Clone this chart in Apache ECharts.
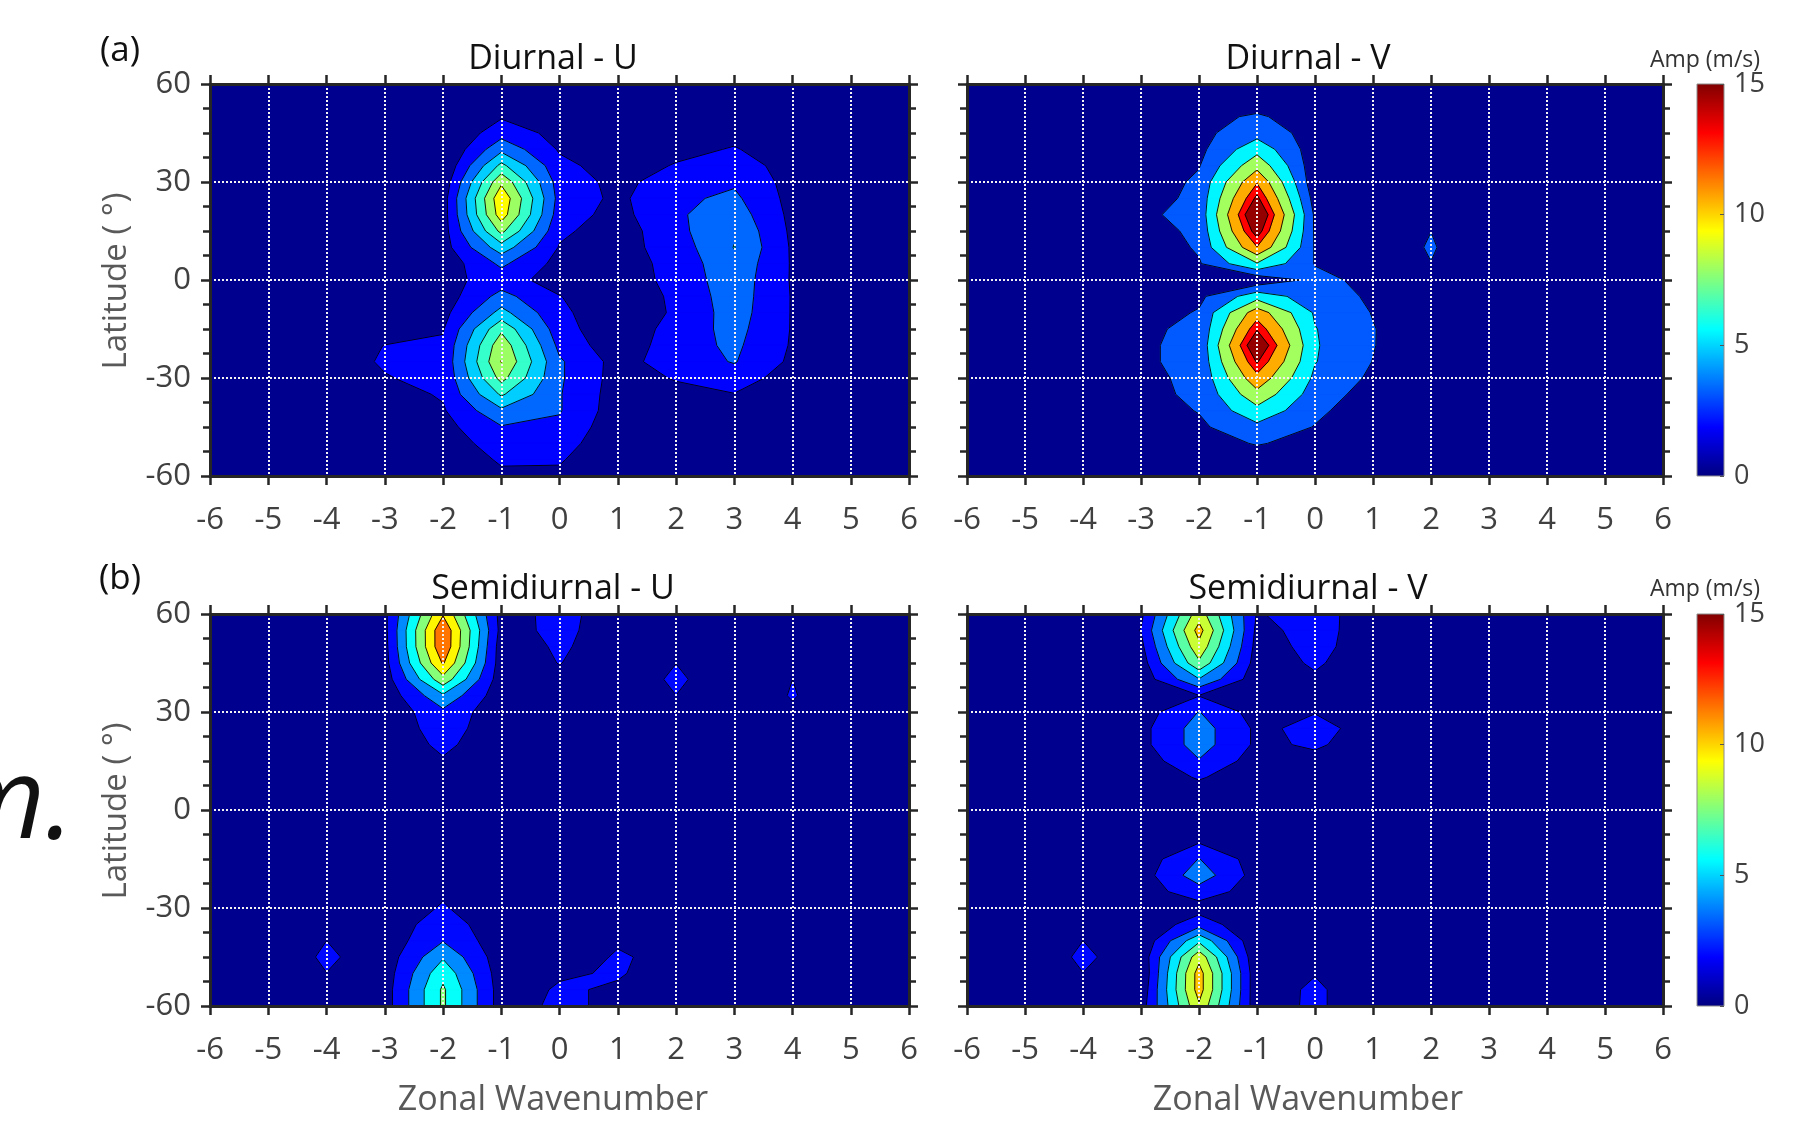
<!DOCTYPE html>
<html>
<head>
<meta charset="utf-8">
<title>Tidal amplitude vs zonal wavenumber</title>
<script src="https://cdn.jsdelivr.net/npm/echarts@6/dist/echarts.min.js"></script>
<style>
  html, body { margin: 0; padding: 0; background: #fff; }
  #chart { width: 1798px; height: 1127px; }
</style>
</head>
<body>
<div id="chart"></div>
<script>
// grid of the contour plots: columns = zonal wavenumber, rows = latitude (north -> south)
const WAVENUMBERS = [-6, -5, -4, -3, -2, -1, 0, 1, 2, 3, 4, 5, 6];
const LATITUDES = [60, 55, 50, 45, 40, 35, 30, 25, 20, 15, 10, 5, 0, -5, -10, -15, -20, -25, -30, -35, -40, -45, -50, -55, -60];
const AMP_RANGE = [0, 15];

const PANEL_TITLES = ['Diurnal - U', 'Diurnal - V', 'Semidiurnal - U', 'Semidiurnal - V'];

// contour levels (m/s) of each panel
const LEVELS_DIURNAL_U = [1.9, 3.4, 4.9, 6.4, 7.9, 9.4];
const LEVELS_DIURNAL_V = [3.2, 5.5, 8.0, 10.6, 13.1, 14.7];
const LEVELS_SEMI_U = [2.0, 3.9, 5.7, 7.6, 9.5, 11.4];
const LEVELS_SEMI_V = [2.0, 3.65, 5.3, 6.95, 8.6, 10.25];

// amplitude (m/s), one row per latitude, one column per wavenumber
const DIURNAL_U = [
  [0.3, 0.3, 0.4, 0.4, 0.3, 0.6, 0.4, 0.4, 0.3, 0.4, 0.3, 0.3, 0.3],
  [0.3, 0.3, 0.4, 0.4, 0.4, 1.1, 0.6, 0.5, 0.4, 0.6, 0.4, 0.3, 0.3],
  [0.3, 0.3, 0.4, 0.4, 0.4, 1.75, 1.0, 0.6, 0.6, 0.9, 0.6, 0.3, 0.3],
  [0.3, 0.3, 0.4, 0.3, 0.3, 2.8, 1.4, 0.8, 1.0, 1.5, 0.9, 0.4, 0.3],
  [0.3, 0.3, 0.4, 0.3, 0.3, 4.5, 1.75, 1.0, 1.5, 2.0, 1.1, 0.4, 0.3],
  [0.3, 0.3, 0.4, 0.3, 0.5, 6.8, 2.3, 1.2, 2.0, 2.6, 1.3, 0.5, 0.3],
  [0.3, 0.3, 0.4, 0.4, 0.9, 9.1, 2.7, 1.5, 2.6, 3.2, 1.35, 0.5, 0.3],
  [0.3, 0.3, 0.4, 0.5, 1.2, 10.6, 2.85, 1.58, 3.1, 3.7, 1.4, 0.5, 0.3],
  [0.3, 0.3, 0.4, 0.5, 1.2, 10.2, 2.6, 1.4, 3.2, 4.2, 1.5, 0.6, 0.3],
  [0.3, 0.3, 0.4, 0.5, 1.25, 8.3, 2.2, 1.1, 3.0, 4.7, 1.6, 0.6, 0.3],
  [0.3, 0.3, 0.4, 0.5, 1.25, 5.75, 1.8, 1.3, 2.6, 4.95, 1.7, 0.6, 0.3],
  [0.3, 0.3, 0.4, 0.4, 0.9, 3.7, 1.4, 1.1, 2.45, 4.5, 1.75, 0.6, 0.3],
  [0.3, 0.4, 0.4, 0.6, 1.4, 2.6, 1.2, 1.0, 2.4, 4.3, 1.75, 0.6, 0.3],
  [0.3, 0.3, 0.4, 0.5, 1.1, 3.9, 1.95, 0.8, 2.2, 4.2, 1.8, 0.6, 0.3],
  [0.3, 0.3, 0.4, 0.7, 1.4, 5.4, 2.2, 0.9, 2.1, 4.1, 1.8, 0.6, 0.3],
  [0.3, 0.3, 0.8, 1.2, 1.8, 7.6, 2.5, 0.8, 2.5, 3.9, 1.8, 0.6, 0.3],
  [0.3, 0.4, 1.3, 1.92, 2.1, 8.9, 3.0, 0.9, 2.7, 3.7, 1.75, 0.5, 0.3],
  [0.3, 0.5, 1.45, 2.0, 2.2, 9.45, 3.6, 1.35, 2.6, 3.5, 1.6, 0.5, 0.3],
  [0.3, 0.4, 1.2, 1.85, 2.15, 8.4, 3.6, 1.3, 2.0, 2.65, 1.2, 0.4, 0.3],
  [0.3, 0.3, 0.8, 1.3, 2.05, 6.6, 3.5, 1.2, 1.5, 1.85, 0.9, 0.4, 0.3],
  [0.3, 0.3, 0.6, 0.9, 1.75, 4.6, 3.5, 1.1, 1.0, 1.3, 0.7, 0.3, 0.3],
  [0.3, 0.3, 0.4, 0.6, 1.4, 3.3, 3.1, 0.9, 0.7, 1.0, 0.5, 0.3, 0.3],
  [0.3, 0.3, 0.3, 0.4, 1.0, 2.7, 2.6, 0.7, 0.5, 0.8, 0.4, 0.3, 0.3],
  [0.3, 0.3, 0.3, 0.3, 0.7, 2.1, 2.05, 0.6, 0.4, 0.6, 0.3, 0.3, 0.3],
  [0.3, 0.3, 0.3, 0.3, 0.5, 1.6, 1.6, 0.5, 0.3, 0.4, 0.3, 0.3, 0.3]
];

const DIURNAL_V = [
  [0.3, 0.3, 0.3, 0.3, 0.8, 0.6, 0.4, 0.3, 0.3, 0.3, 0.3, 0.3, 0.3],
  [0.3, 0.3, 0.3, 0.4, 1.8, 1.6, 0.9, 0.4, 0.3, 0.3, 0.3, 0.3, 0.3],
  [0.3, 0.3, 0.4, 0.5, 2.3, 3.6, 1.6, 0.5, 0.4, 0.3, 0.3, 0.3, 0.3],
  [0.3, 0.4, 0.4, 0.6, 2.6, 4.6, 2.27, 0.6, 0.5, 0.3, 0.3, 0.3, 0.3],
  [0.3, 0.4, 0.5, 0.8, 2.6, 7.1, 1.9, 0.7, 0.6, 0.3, 0.3, 0.3, 0.3],
  [0.3, 0.4, 0.5, 1.0, 3.06, 9.8, 1.7, 0.8, 0.8, 0.3, 0.3, 0.3, 0.3],
  [0.3, 0.4, 0.7, 1.5, 3.7, 12.9, 1.6, 0.9, 1.0, 0.3, 0.3, 0.3, 0.3],
  [0.3, 0.4, 0.9, 2.0, 3.9, 15.2, 2.2, 1.0, 1.3, 0.4, 0.3, 0.3, 0.3],
  [0.3, 0.4, 1.2, 2.8, 3.9, 17.5, 2.8, 1.0, 1.8, 0.5, 0.3, 0.3, 0.3],
  [0.3, 0.4, 1.0, 2.2, 3.7, 15.8, 2.9, 1.0, 3.18, 0.6, 0.3, 0.3, 0.3],
  [0.3, 0.4, 0.7, 1.5, 3.5, 13.0, 3.0, 1.1, 3.5, 0.6, 0.3, 0.3, 0.3],
  [0.3, 0.4, 0.5, 0.8, 3.0, 7.8, 3.1, 1.6, 3.15, 0.6, 0.3, 0.3, 0.3],
  [0.3, 0.4, 0.4, 0.4, 0.8, 1.5, 3.8, 2.6, 1.5, 0.5, 0.3, 0.3, 0.3],
  [0.3, 0.4, 0.4, 0.5, 2.7, 6.9, 4.2, 2.9, 1.4, 0.5, 0.3, 0.3, 0.3],
  [0.3, 0.4, 0.8, 2.0, 3.4, 12.0, 5.2, 3.1, 1.5, 0.5, 0.3, 0.3, 0.3],
  [0.3, 0.4, 1.2, 2.95, 3.5, 14.5, 5.6, 3.3, 1.5, 0.5, 0.3, 0.3, 0.3],
  [0.3, 0.4, 1.4, 3.0, 3.6, 17.0, 5.7, 3.3, 1.3, 0.5, 0.3, 0.3, 0.3],
  [0.3, 0.4, 1.4, 3.0, 3.6, 14.9, 5.6, 3.15, 1.2, 0.4, 0.3, 0.3, 0.3],
  [0.3, 0.4, 1.3, 2.9, 3.5, 12.4, 5.0, 2.8, 1.0, 0.4, 0.3, 0.3, 0.3],
  [0.3, 0.4, 1.1, 2.9, 3.4, 9.8, 4.3, 2.3, 0.8, 0.4, 0.3, 0.3, 0.3],
  [0.3, 0.4, 0.8, 2.2, 3.3, 7.2, 3.7, 1.8, 0.6, 0.3, 0.3, 0.3, 0.3],
  [0.3, 0.4, 0.6, 1.5, 2.8, 4.9, 3.1, 1.3, 0.5, 0.3, 0.3, 0.3, 0.3],
  [0.3, 0.3, 0.5, 1.0, 2.0, 3.4, 2.3, 0.9, 0.4, 0.3, 0.3, 0.3, 0.3],
  [0.3, 0.3, 0.4, 0.6, 1.2, 1.8, 1.4, 0.6, 0.3, 0.3, 0.3, 0.3, 0.3],
  [0.3, 0.3, 0.3, 0.4, 0.6, 0.8, 0.8, 0.4, 0.3, 0.3, 0.3, 0.3, 0.3]
];

const SEMIDIURNAL_U = [
  [0.3, 0.4, 0.4, 1.6, 11.2, 1.3, 2.5, 1.2, 0.5, 0.5, 0.4, 0.4, 0.3],
  [0.3, 0.4, 0.4, 1.5, 13.0, 1.4, 2.4, 1.2, 0.6, 0.5, 0.4, 0.4, 0.3],
  [0.3, 0.4, 0.4, 1.4, 13.0, 1.0, 2.25, 1.1, 0.8, 0.5, 0.5, 0.4, 0.3],
  [0.3, 0.4, 0.4, 1.3, 11.6, 1.0, 2.05, 1.0, 1.98, 0.6, 1.2, 0.4, 0.3],
  [0.3, 0.4, 0.4, 1.0, 8.84, 0.9, 1.6, 0.5, 2.4, 0.5, 2.0, 0.5, 0.3],
  [0.3, 0.4, 0.4, 0.7, 5.4, 0.8, 1.1, 0.6, 1.99, 0.5, 2.15, 0.5, 0.3],
  [0.3, 0.4, 0.4, 0.5, 3.5, 0.6, 0.8, 0.6, 1.2, 0.5, 1.7, 0.4, 0.3],
  [0.3, 0.4, 0.4, 0.4, 3.1, 0.5, 0.6, 0.5, 0.6, 0.5, 1.0, 0.4, 0.3],
  [0.3, 0.4, 0.4, 0.4, 2.5, 0.5, 0.5, 0.5, 0.5, 0.5, 0.4, 0.4, 0.3],
  [0.3, 0.4, 0.4, 0.3, 1.8, 0.4, 0.5, 0.5, 0.5, 0.5, 0.4, 0.4, 0.3],
  [0.3, 0.4, 0.4, 0.3, 1.2, 0.3, 0.5, 0.5, 0.5, 0.5, 0.4, 0.4, 0.3],
  [0.3, 0.4, 0.4, 0.3, 0.8, 0.3, 0.5, 0.5, 0.5, 0.5, 0.4, 0.4, 0.3],
  [0.3, 0.4, 0.4, 0.3, 0.6, 0.3, 0.5, 0.5, 0.5, 0.5, 0.4, 0.4, 0.3],
  [0.3, 0.4, 0.4, 0.3, 0.5, 0.3, 0.5, 0.5, 0.5, 0.5, 0.4, 0.4, 0.3],
  [0.3, 0.4, 0.4, 0.3, 0.6, 0.3, 0.5, 0.5, 0.5, 0.5, 0.4, 0.4, 0.3],
  [0.3, 0.4, 0.4, 0.3, 0.8, 0.3, 0.5, 0.5, 0.5, 0.5, 0.4, 0.4, 0.3],
  [0.3, 0.4, 0.4, 0.4, 1.2, 0.3, 0.5, 0.5, 0.5, 0.5, 0.4, 0.4, 0.3],
  [0.3, 0.4, 0.4, 0.5, 1.7, 0.3, 0.5, 0.5, 0.5, 0.5, 0.4, 0.4, 0.3],
  [0.3, 0.4, 0.4, 0.6, 2.2, 0.4, 0.5, 0.5, 0.5, 0.5, 0.4, 0.4, 0.3],
  [0.3, 0.4, 0.8, 0.7, 3.1, 0.6, 0.5, 0.9, 0.6, 0.5, 0.4, 0.4, 0.3],
  [0.3, 0.4, 2.0, 0.8, 3.8, 0.8, 0.6, 1.8, 1.1, 0.5, 0.4, 0.4, 0.3],
  [0.3, 0.5, 2.35, 0.9, 5.5, 0.9, 0.9, 2.2, 1.46, 0.5, 0.4, 0.4, 0.3],
  [0.3, 0.4, 1.98, 1.0, 7.0, 1.0, 1.8, 2.15, 1.2, 0.5, 0.4, 0.4, 0.3],
  [0.3, 0.4, 0.8, 1.1, 7.9, 1.1, 2.2, 1.8, 0.8, 0.5, 0.4, 0.4, 0.3],
  [0.3, 0.4, 0.5, 1.1, 7.9, 1.1, 2.4, 1.6, 0.6, 0.5, 0.4, 0.4, 0.3]
];

const SEMIDIURNAL_V = [
  [0.3, 0.4, 0.5, 1.7, 9.5, 1.9, 2.6, 1.2, 0.5, 0.4, 0.3, 0.3, 0.3],
  [0.3, 0.4, 0.5, 2.05, 10.9, 1.6, 2.5, 1.3, 0.5, 0.4, 0.3, 0.3, 0.3],
  [0.3, 0.4, 0.4, 1.6, 9.8, 1.4, 2.4, 1.3, 0.5, 0.4, 0.3, 0.3, 0.3],
  [0.3, 0.4, 0.4, 1.2, 8.3, 1.2, 2.2, 1.1, 0.4, 0.4, 0.3, 0.3, 0.3],
  [0.3, 0.4, 0.4, 1.0, 5.2, 1.0, 1.8, 0.9, 0.4, 0.4, 0.3, 0.3, 0.3],
  [0.3, 0.4, 0.4, 0.8, 1.95, 0.8, 1.3, 0.8, 0.4, 0.4, 0.3, 0.3, 0.3],
  [0.3, 0.4, 0.4, 1.2, 3.7, 1.3, 1.95, 1.0, 0.4, 0.4, 0.3, 0.3, 0.3],
  [0.3, 0.4, 0.4, 1.5, 4.4, 1.7, 2.4, 1.5, 0.6, 0.4, 0.3, 0.3, 0.3],
  [0.3, 0.4, 0.4, 1.5, 4.4, 1.7, 2.2, 1.3, 0.5, 0.4, 0.3, 0.3, 0.3],
  [0.3, 0.4, 0.4, 1.0, 3.55, 1.2, 1.6, 0.9, 0.4, 0.4, 0.3, 0.3, 0.3],
  [0.3, 0.4, 0.4, 0.6, 2.2, 0.7, 0.9, 0.6, 0.4, 0.4, 0.3, 0.3, 0.3],
  [0.3, 0.4, 0.4, 0.4, 1.0, 0.4, 0.5, 0.4, 0.4, 0.4, 0.3, 0.3, 0.3],
  [0.3, 0.4, 0.4, 0.3, 0.6, 0.3, 0.4, 0.4, 0.4, 0.4, 0.3, 0.3, 0.3],
  [0.3, 0.4, 0.4, 0.4, 0.9, 0.5, 0.4, 0.4, 0.4, 0.4, 0.3, 0.3, 0.3],
  [0.3, 0.4, 0.4, 0.6, 1.95, 0.8, 0.4, 0.4, 0.4, 0.4, 0.3, 0.3, 0.3],
  [0.3, 0.4, 0.4, 1.0, 3.7, 1.2, 0.4, 0.4, 0.4, 0.4, 0.3, 0.3, 0.3],
  [0.3, 0.4, 0.4, 1.2, 4.6, 1.3, 0.4, 0.4, 0.4, 0.4, 0.3, 0.3, 0.3],
  [0.3, 0.4, 0.4, 1.2, 2.9, 1.2, 0.4, 0.4, 0.4, 0.4, 0.3, 0.3, 0.3],
  [0.3, 0.4, 0.4, 0.7, 1.3, 0.7, 0.4, 0.4, 0.4, 0.4, 0.3, 0.3, 0.3],
  [0.3, 0.4, 0.9, 0.5, 3.0, 0.5, 0.4, 0.4, 0.4, 0.4, 0.3, 0.3, 0.3],
  [0.3, 0.4, 2.0, 0.6, 6.6, 0.5, 0.4, 0.4, 0.4, 0.4, 0.3, 0.3, 0.3],
  [0.3, 0.4, 2.4, 0.8, 9.7, 0.6, 0.8, 0.4, 0.4, 0.4, 0.3, 0.3, 0.3],
  [0.3, 0.4, 1.98, 0.5, 11.0, 0.8, 1.9, 0.5, 0.4, 0.4, 0.3, 0.3, 0.3],
  [0.3, 0.4, 0.8, 0.8, 11.0, 0.8, 2.4, 0.5, 0.4, 0.4, 0.3, 0.3, 0.3],
  [0.3, 0.4, 0.5, 1.2, 10.0, 0.9, 2.4, 0.5, 0.4, 0.4, 0.3, 0.3, 0.3]
];

const FONT = '"Open Sans", "DejaVu Sans", sans-serif';
const FRAME = '#262626';
const LABEL = '#404040';
const GREY_TEXT = '#595959';

// MATLAB style jet colormap on the amplitude range
function jet(v) {
  const f = Math.min(Math.max((v - AMP_RANGE[0]) / (AMP_RANGE[1] - AMP_RANGE[0]), 0), 1);
  const ch = x => Math.round(255 * Math.min(Math.max(1.5 - Math.abs(4 * f - x), 0), 1));
  return 'rgb(' + ch(3) + ',' + ch(2) + ',' + ch(1) + ')';
}
const NAVY = jet(AMP_RANGE[1] / 64);

const panels = [
  { values: DIURNAL_U, levels: LEVELS_DIURNAL_U, left: 210, top: 84, width: 699 },
  { values: DIURNAL_V, levels: LEVELS_DIURNAL_V, left: 967, top: 84, width: 696 },
  { values: SEMIDIURNAL_U, levels: LEVELS_SEMI_U, left: 210, top: 614, width: 699 },
  { values: SEMIDIURNAL_V, levels: LEVELS_SEMI_V, left: 967, top: 614, width: 696 }
];
const PANEL_HEIGHT = 392;

function toPoints(values) {
  const pts = [];
  LATITUDES.forEach((lat, r) => {
    WAVENUMBERS.forEach((k, c) => pts.push([k, lat, values[r][c]]));
  });
  return pts;
}

// filled contours, cell by cell (marching squares, linear along the cell edges)
function contourRenderer(values, levels) {
  const nCol = WAVENUMBERS.length;
  return function (params, api) {
    const r = Math.floor(params.dataIndex / nCol);
    const c = params.dataIndex % nCol;
    if (r >= LATITUDES.length - 1 || c >= nCol - 1) return null;
    const corners = [[r, c], [r, c + 1], [r + 1, c + 1], [r + 1, c]].map(rc => {
      const p = api.coord([WAVENUMBERS[rc[1]], LATITUDES[rc[0]]]);
      return { x: p[0], y: p[1], v: values[rc[0]][rc[1]] };
    });
    const children = [];
    levels.forEach((lev, li) => {
      const poly = [];
      const cuts = [];
      for (let i = 0; i < 4; i++) {
        const a = corners[i];
        const b = corners[(i + 1) % 4];
        const aIn = a.v >= lev;
        const bIn = b.v >= lev;
        if (aIn) poly.push([a.x, a.y]);
        if (aIn !== bIn) {
          const t = (lev - a.v) / (b.v - a.v);
          const pt = [a.x + t * (b.x - a.x), a.y + t * (b.y - a.y)];
          poly.push(pt);
          cuts.push({ pt: pt, exit: aIn });
        }
      }
      if (poly.length < 3) return;
      const fill = jet(lev);
      children.push({
        type: 'polygon', z2: li + 1,
        shape: { points: poly },
        style: { fill: fill, stroke: fill, lineWidth: 0.8 }
      });
      cuts.forEach((cut, i) => {
        if (!cut.exit) return;
        const next = cuts[(i + 1) % cuts.length];
        children.push({
          type: 'line', z2: 100,
          shape: { x1: cut.pt[0], y1: cut.pt[1], x2: next.pt[0], y2: next.pt[1] },
          style: { stroke: '#000', lineWidth: 0.9 }
        });
      });
    });
    return { type: 'group', children: children };
  };
}

const gridLine = { color: '#f2f2f2', type: [2, 2], width: 2 };
const frameLine = { show: true, onZero: false, lineStyle: { color: FRAME, width: 3 } };
const frameTick = { show: true, inside: false, length: 9, lineStyle: { color: FRAME, width: 2.5 } };
const minorTick = { show: true, splitNumber: 4, length: 7, lineStyle: { color: FRAME, width: 2.5 } };

const grids = [];
const xAxes = [];
const yAxes = [];
const series = [];

panels.forEach((p, i) => {
  grids.push({
    left: p.left, top: p.top, width: p.width, height: PANEL_HEIGHT,
    show: true, backgroundColor: NAVY, borderWidth: 0, outerBoundsMode: 'none'
  });
  const xBase = { type: 'value', gridIndex: i, min: -6, max: 6, interval: 1, z: 5 };
  xAxes.push(Object.assign({}, xBase, {
    position: 'bottom', axisLine: frameLine, axisTick: frameTick,
    axisLabel: { margin: 29, fontSize: 31, color: LABEL, fontFamily: FONT },
    splitLine: { show: true, showMinLine: false, showMaxLine: false, lineStyle: gridLine }
  }));
  xAxes.push(Object.assign({}, xBase, {
    position: 'top', axisLine: frameLine, axisTick: frameTick,
    axisLabel: { show: false }, splitLine: { show: false }
  }));
  const yBase = { type: 'value', gridIndex: i, min: -60, max: 60, interval: 30, z: 5 };
  yAxes.push(Object.assign({}, yBase, {
    position: 'left', axisLine: frameLine, axisTick: frameTick, minorTick: minorTick,
    axisLabel: { show: i % 2 === 0, margin: 19, fontSize: 31, color: LABEL, fontFamily: FONT },
    splitLine: { show: true, showMinLine: false, showMaxLine: false, lineStyle: gridLine }
  }));
  yAxes.push(Object.assign({}, yBase, {
    position: 'right', axisLine: frameLine, axisTick: frameTick, minorTick: minorTick,
    axisLabel: { show: false }, splitLine: { show: false }
  }));
  series.push({
    type: 'custom', name: PANEL_TITLES[i],
    xAxisIndex: 2 * i, yAxisIndex: 2 * i,
    clip: true, z: 2,
    encode: { x: 0, y: 1 },
    renderItem: contourRenderer(p.values, p.levels),
    data: toPoints(p.values)
  });
});

// colour bars beside the right hand panels
const colorStops = [0, 0.125, 0.375, 0.625, 0.875, 1].map(o => ({
  offset: o, color: jet(AMP_RANGE[0] + o * (AMP_RANGE[1] - AMP_RANGE[0]))
}));
[84, 614].forEach((top, j) => {
  const gi = grids.length;
  const ai = xAxes.length;
  grids.push({ left: 1697, top: top, width: 27, height: PANEL_HEIGHT, outerBoundsMode: 'none' });
  xAxes.push({ type: 'value', gridIndex: gi, min: 0, max: 1, show: false });
  yAxes.push({
    type: 'value', gridIndex: gi, min: AMP_RANGE[0], max: AMP_RANGE[1], interval: 5,
    position: 'right', z: 5,
    axisLine: { show: false, onZero: false },
    axisTick: { show: true, inside: true, length: 4, lineStyle: { color: '#555', width: 1 } },
    axisLabel: { margin: 10, fontSize: 27, color: LABEL, fontFamily: FONT },
    splitLine: { show: false }
  });
  series.push({
    type: 'custom', xAxisIndex: ai, yAxisIndex: ai, z: 2,
    encode: { x: 0, y: [1, 2] },
    data: [[0, AMP_RANGE[0], AMP_RANGE[1]]],
    renderItem: (params, api) => {
      const lo = api.coord([0, api.value(1)]);
      const hi = api.coord([1, api.value(2)]);
      return {
        type: 'rect',
        shape: { x: lo[0], y: hi[1], width: hi[0] - lo[0], height: lo[1] - hi[1] },
        style: {
          fill: new echarts.graphic.LinearGradient(0, 1, 0, 0, colorStops),
          stroke: '#8c8c8c', lineWidth: 1
        }
      };
    }
  });
});

function label(text, x, y, size, color, extra) {
  return Object.assign({
    type: 'text', x: x, y: y, z: 10,
    style: {
      text: text, fontSize: size, fontFamily: FONT, fill: color,
      align: 'center', textAlign: 'center', verticalAlign: 'middle', textVerticalAlign: 'middle'
    }
  }, extra || {});
}

const graphics = [
  label('(a)', 120, 51, 35, '#111'),
  label('(b)', 120, 579, 35, '#111'),
  label(PANEL_TITLES[0], 553, 59, 34, '#111'),
  label(PANEL_TITLES[1], 1308, 59, 34, '#111'),
  label(PANEL_TITLES[2], 553, 589, 34, '#111'),
  label(PANEL_TITLES[3], 1308, 589, 34, '#111'),
  label('Latitude ( °)', 117, 281, 33, GREY_TEXT, { rotation: Math.PI / 2 }),
  label('Latitude ( °)', 117, 811, 33, GREY_TEXT, { rotation: Math.PI / 2 }),
  label('Zonal Wavenumber', 553, 1100, 34, GREY_TEXT),
  label('Zonal Wavenumber', 1308, 1100, 34, GREY_TEXT),
  label('Amp (m/s)', 1705, 60, 23, '#333'),
  label('Amp (m/s)', 1705, 589, 23, '#333'),
  {
    type: 'text', x: 74, y: 806, z: 10,
    style: {
      text: 'm.', fontSize: 114, fontStyle: 'italic', fontFamily: FONT, fill: '#111',
      align: 'right', textAlign: 'right', verticalAlign: 'middle', textVerticalAlign: 'middle'
    }
  }
];

const chart = echarts.init(document.getElementById('chart'), null, { renderer: 'canvas' });
chart.setOption({
  animation: false,
  backgroundColor: '#ffffff',
  textStyle: { fontFamily: FONT },
  grid: grids,
  xAxis: xAxes,
  yAxis: yAxes,
  series: series,
  graphic: graphics
});
</script>
</body>
</html>
